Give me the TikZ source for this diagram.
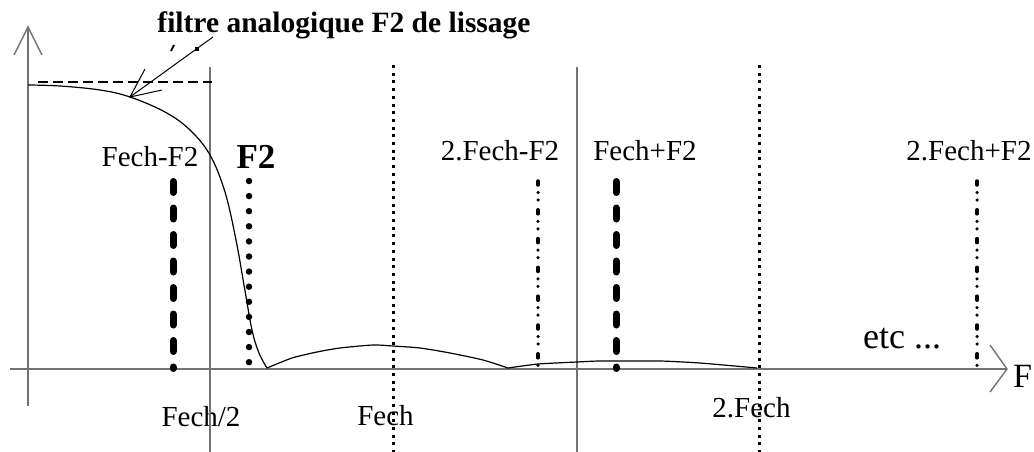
\documentclass[tikz,border=0pt]{standalone}
\usepackage{fontspec}
\setmainfont{Liberation Serif}
\begin{document}
\begin{tikzpicture}[x=1pt,y=-1pt,
  lbl/.style={inner sep=0pt,anchor=base,font=\fontsize{29}{34}\selectfont},
  biglbl/.style={inner sep=0pt,anchor=base,font=\fontsize{36}{42}\selectfont},
  axisline/.style={draw=black!55,line width=1.4pt},
  guide/.style={draw=black!55,line width=1.3pt},
  freqdots/.style={line width=3pt,dash pattern=on 3pt off 4.7pt},
  harmA/.style={line width=7pt,line cap=round,dash pattern=on 11pt off 15.5pt},
  harmB/.style={line width=6.5pt,line cap=round,dash pattern=on 0pt off 15.1pt},
  harmC/.style={line width=3.5pt,line cap=round,
    dash pattern=on 4pt off 7.5pt on 0pt off 7.5pt on 0pt off 9.8pt},
  curve/.style={line width=1.2pt}]
\useasboundingbox (0,0) rectangle (1034,452);

% labels
\node[lbl,font=\fontsize{29.5}{34}\selectfont\bfseries] (title) at (344,33) {filtre analogique F2 de lissage};
\node[lbl] (lfmf) at (150,166) {Fech-F2};
\node[lbl,font=\fontsize{35}{40}\selectfont\bfseries] (lf2) at (256,168) {F2};
\node[lbl] (l2fmf) at (500,160) {2.Fech-F2};
\node[lbl] (lfpf) at (645,160) {Fech+F2};
\node[lbl] (l2fpf) at (969,160) {2.Fech+F2};
\node[biglbl] (etc) at (902,348) {etc ...};
\node[biglbl,anchor=base west,font=\fontsize{34}{40}\selectfont] (lF) at (1013,387) {F};
\node[lbl] (lfh) at (201,426) {Fech/2};
\node[lbl] (lfe) at (385.5,425) {Fech};
\node[lbl] (l2fe) at (751.5,417) {2.Fech};

% axes
\coordinate (xs) at (10,369);
\coordinate (xe) at (1007,369);
\coordinate (ys) at (28,406);
\coordinate (ye) at (28,27);
\draw[axisline] (xs) -- (xe);
\draw[axisline] (990,345) -- (xe) -- (990,392);
\draw[axisline] (ys) -- (ye);
\draw[axisline] (14,55) -- (ye) -- (42,55);

% guide lines at Fech/2 and 3Fech/2
\draw[guide] (210,67) -- (210,452);
\draw[guide] (577,67) -- (577,452);

% sampling frequencies
\draw[freqdots] (393,65) -- (393,452);
\draw[freqdots] (759,65) -- (759,452);

% pass-band level
\draw[line width=2.2pt,dash pattern=on 10pt off 5pt] (38,82) -- (212,82);

% smoothing filter response
\draw[curve] plot[smooth,tension=0.6] coordinates {(28,85) (60,86) (100,90) (130,97) (165,112) (190,130) (210,155) (225,192) (236,240) (244,285) (252,330) (259,353) (267,368)};
\draw[curve] plot[smooth,tension=0.4] coordinates {(267,368) (292,358) (317,352) (340,348) (373,345) (393,346) (420,348) (450,353) (483,360) (508,368)};
\draw[curve] plot[smooth,tension=0.3] coordinates {(508,368) (538,364) (577,362) (600,361) (660,361) (700,363) (757,368)};

% annotation arrow
\coordinate (tip) at (130,97);
\draw[line width=1pt] (213,37) -- (tip);
\draw[line width=1pt] (145,69) -- (tip) -- (162,90);
\draw[line width=2pt] (171,51) -- (174,45);
\fill (195,47) rectangle (199,51);

% spectral lines
\draw[harmA] (173,181.5) -- (173,368.5);
\draw[harmA] (616,181.5) -- (616,368.5);
\draw[harmB] (249,181) -- (249,362.5);
\draw[harmC] (538,181) -- (538,366);
\draw[harmC] (977,181) -- (977,366);
\end{tikzpicture}
\end{document}
